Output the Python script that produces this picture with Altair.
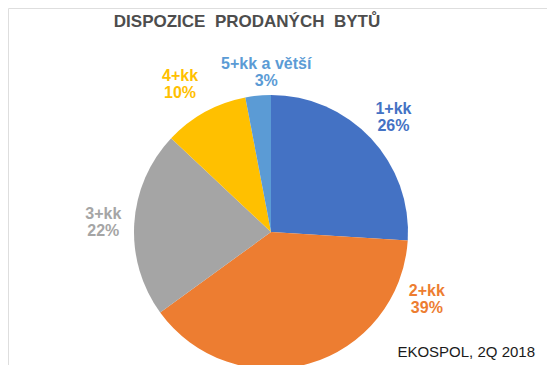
import altair as alt
import pandas as pd

categories = ["1+kk", "2+kk", "3+kk", "4+kk", "5+kk a větší"]
shares = [26, 39, 22, 10, 3]
colors = ["#4472C4", "#ED7D31", "#A5A5A5", "#FFC000", "#5B9BD5"]
title_text = "DISPOZICE\u00a0\u00a0PRODANÝCH\u00a0\u00a0BYTŮ"
source_text = "EKOSPOL, 2Q 2018"

df = pd.DataFrame({"cat": categories, "share": shares, "order": list(range(len(categories)))})

CX, CY = 263, 224
FONT = "Liberation Sans"
theta_scale = alt.Scale(domain=[0, 100], range=[0, 6.283185307179586])
color = alt.Color("cat:N", scale=alt.Scale(domain=categories, range=colors), legend=None)

base = alt.Chart(df).transform_window(
    cum="sum(share)", sort=[alt.SortField("order")], frame=[None, 0]
).transform_calculate(
    start="datum.cum - datum.share",
    mid="datum.cum - datum.share / 2",
    label="datum.cat + '\\n' + datum.share + '%'",
)

pie = base.mark_arc(radius=137).encode(
    theta=alt.Theta("start:Q", scale=theta_scale, stack=None),
    theta2="cum:Q",
    color=color,
    x=alt.value(CX),
    y=alt.value(CY),
)

# label nudges (px) for the labels Excel moved away from the slice middle
nudges = {"1+kk": (0, -8), "2+kk": (109, -102), "3+kk": (0, -7), "4+kk": (-10, -9), "5+kk a větší": (11, -1)}

labels = []
for cat in categories:
    dx, dy = nudges[cat]
    labels.append(
        base.transform_filter(alt.datum.cat == cat).mark_text(
            radius=168, font=FONT, fontSize=16, fontWeight="bold",
            lineBreak="\n", lineHeight=17, align="center", baseline="middle",
            dx=dx, dy=dy,
        ).encode(
            theta=alt.Theta("mid:Q", scale=theta_scale, stack=None),
            text="label:N",
            color=color,
            x=alt.value(CX),
            y=alt.value(CY),
        )
    )

title = alt.Chart(pd.DataFrame({"t": [title_text]})).mark_text(
    font=FONT, fontSize=17, fontWeight="bold", color="#4d4d4d",
    align="center", baseline="alphabetic",
).encode(x=alt.value(239), y=alt.value(19), text="t:N")

source = alt.Chart(pd.DataFrame({"t": [source_text]})).mark_text(
    font=FONT, fontSize=15, color="#1a1a1a", align="right", baseline="alphabetic",
).encode(x=alt.value(527), y=alt.value(349), text="t:N")

chart = alt.layer(pie, *labels, title, source).properties(
    width=539, height=357, autosize="none", padding=0
).configure_view(stroke="#dedede", strokeWidth=1)

chart.save("out.html", embed_options={"renderer": "svg", "actions": False})
